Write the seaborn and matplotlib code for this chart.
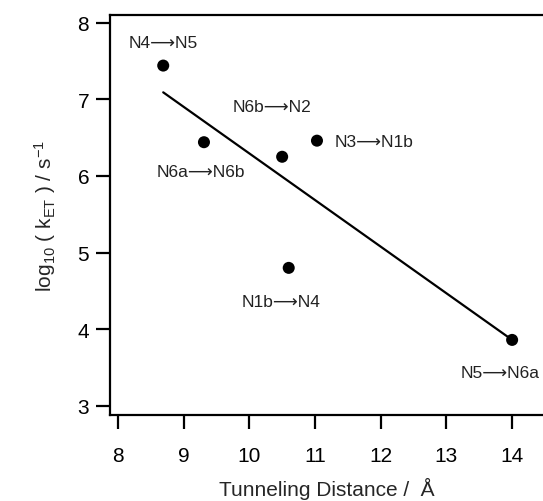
import matplotlib
matplotlib.use("Agg")
import matplotlib.pyplot as plt
import seaborn as sns
import pandas as pd

distance = [8.69, 9.31, 10.50, 11.03, 10.60, 14.00]
log_ket = [7.44, 6.44, 6.25, 6.46, 4.80, 3.86]
pair_labels = ["N4⟶N5", "N6a⟶N6b", "N6b⟶N2", "N3⟶N1b", "N1b⟶N4", "N5⟶N6a"]

# label anchor positions (data coordinates) and alignment
label_pos = [(8.685, 7.74, "center"), (9.26, 6.055, "center"), (9.75, 6.90, "left"),
             (11.30, 6.45, "left"), (9.89, 4.36, "left"), (13.22, 3.44, "left")]

df = pd.DataFrame({"distance": distance, "log_ket": log_ket, "label": pair_labels})

sns.set_theme(style="ticks")
plt.rcParams["font.family"] = ["Liberation Sans", "DejaVu Sans"]
plt.rcParams["mathtext.fontset"] = "custom"
plt.rcParams["mathtext.rm"] = "Liberation Sans"
plt.rcParams["mathtext.it"] = "Liberation Sans"

fig = plt.figure(figsize=(5.43, 5.02), dpi=100)
ax = fig.add_axes([110 / 543, 1 - 416 / 502, 1 - 110 / 543, (416 - 16) / 502])

sns.regplot(data=df, x="distance", y="log_ket", ax=ax, ci=None, truncate=True,
            scatter_kws=dict(s=75, color="black", edgecolor="none", alpha=1, zorder=3),
            line_kws=dict(color="black", lw=1.6))

for (lx, ly, ha), txt in zip(label_pos, pair_labels):
    ax.text(lx, ly, txt, ha=ha, va="center", fontsize=12.5, color="#222222",
            family=["Liberation Sans", "DejaVu Sans"])

ax.set_xlim(7.88, 14.47)
ax.set_ylim(2.88, 8.10)
ax.set_xticks([8, 9, 10, 11, 12, 13, 14])
ax.set_yticks([3, 4, 5, 6, 7, 8])

for side in ["left", "bottom", "top"]:
    ax.spines[side].set_linewidth(1.6)
    ax.spines[side].set_color("black")
ax.spines["right"].set_visible(False)

ax.tick_params(axis="both", direction="out", length=10, width=1.6, labelsize=15, colors="black")
ax.tick_params(axis="x", pad=12)
ax.tick_params(axis="y", pad=5)

ax.set_xlabel("Tunneling Distance /  Å", fontsize=15, labelpad=9)
ax.set_ylabel(r"log$_{10}$ ( k$_{ET}$ ) / s$^{-1}$", fontsize=15, labelpad=14)

fig.savefig("out.png", dpi=100)
